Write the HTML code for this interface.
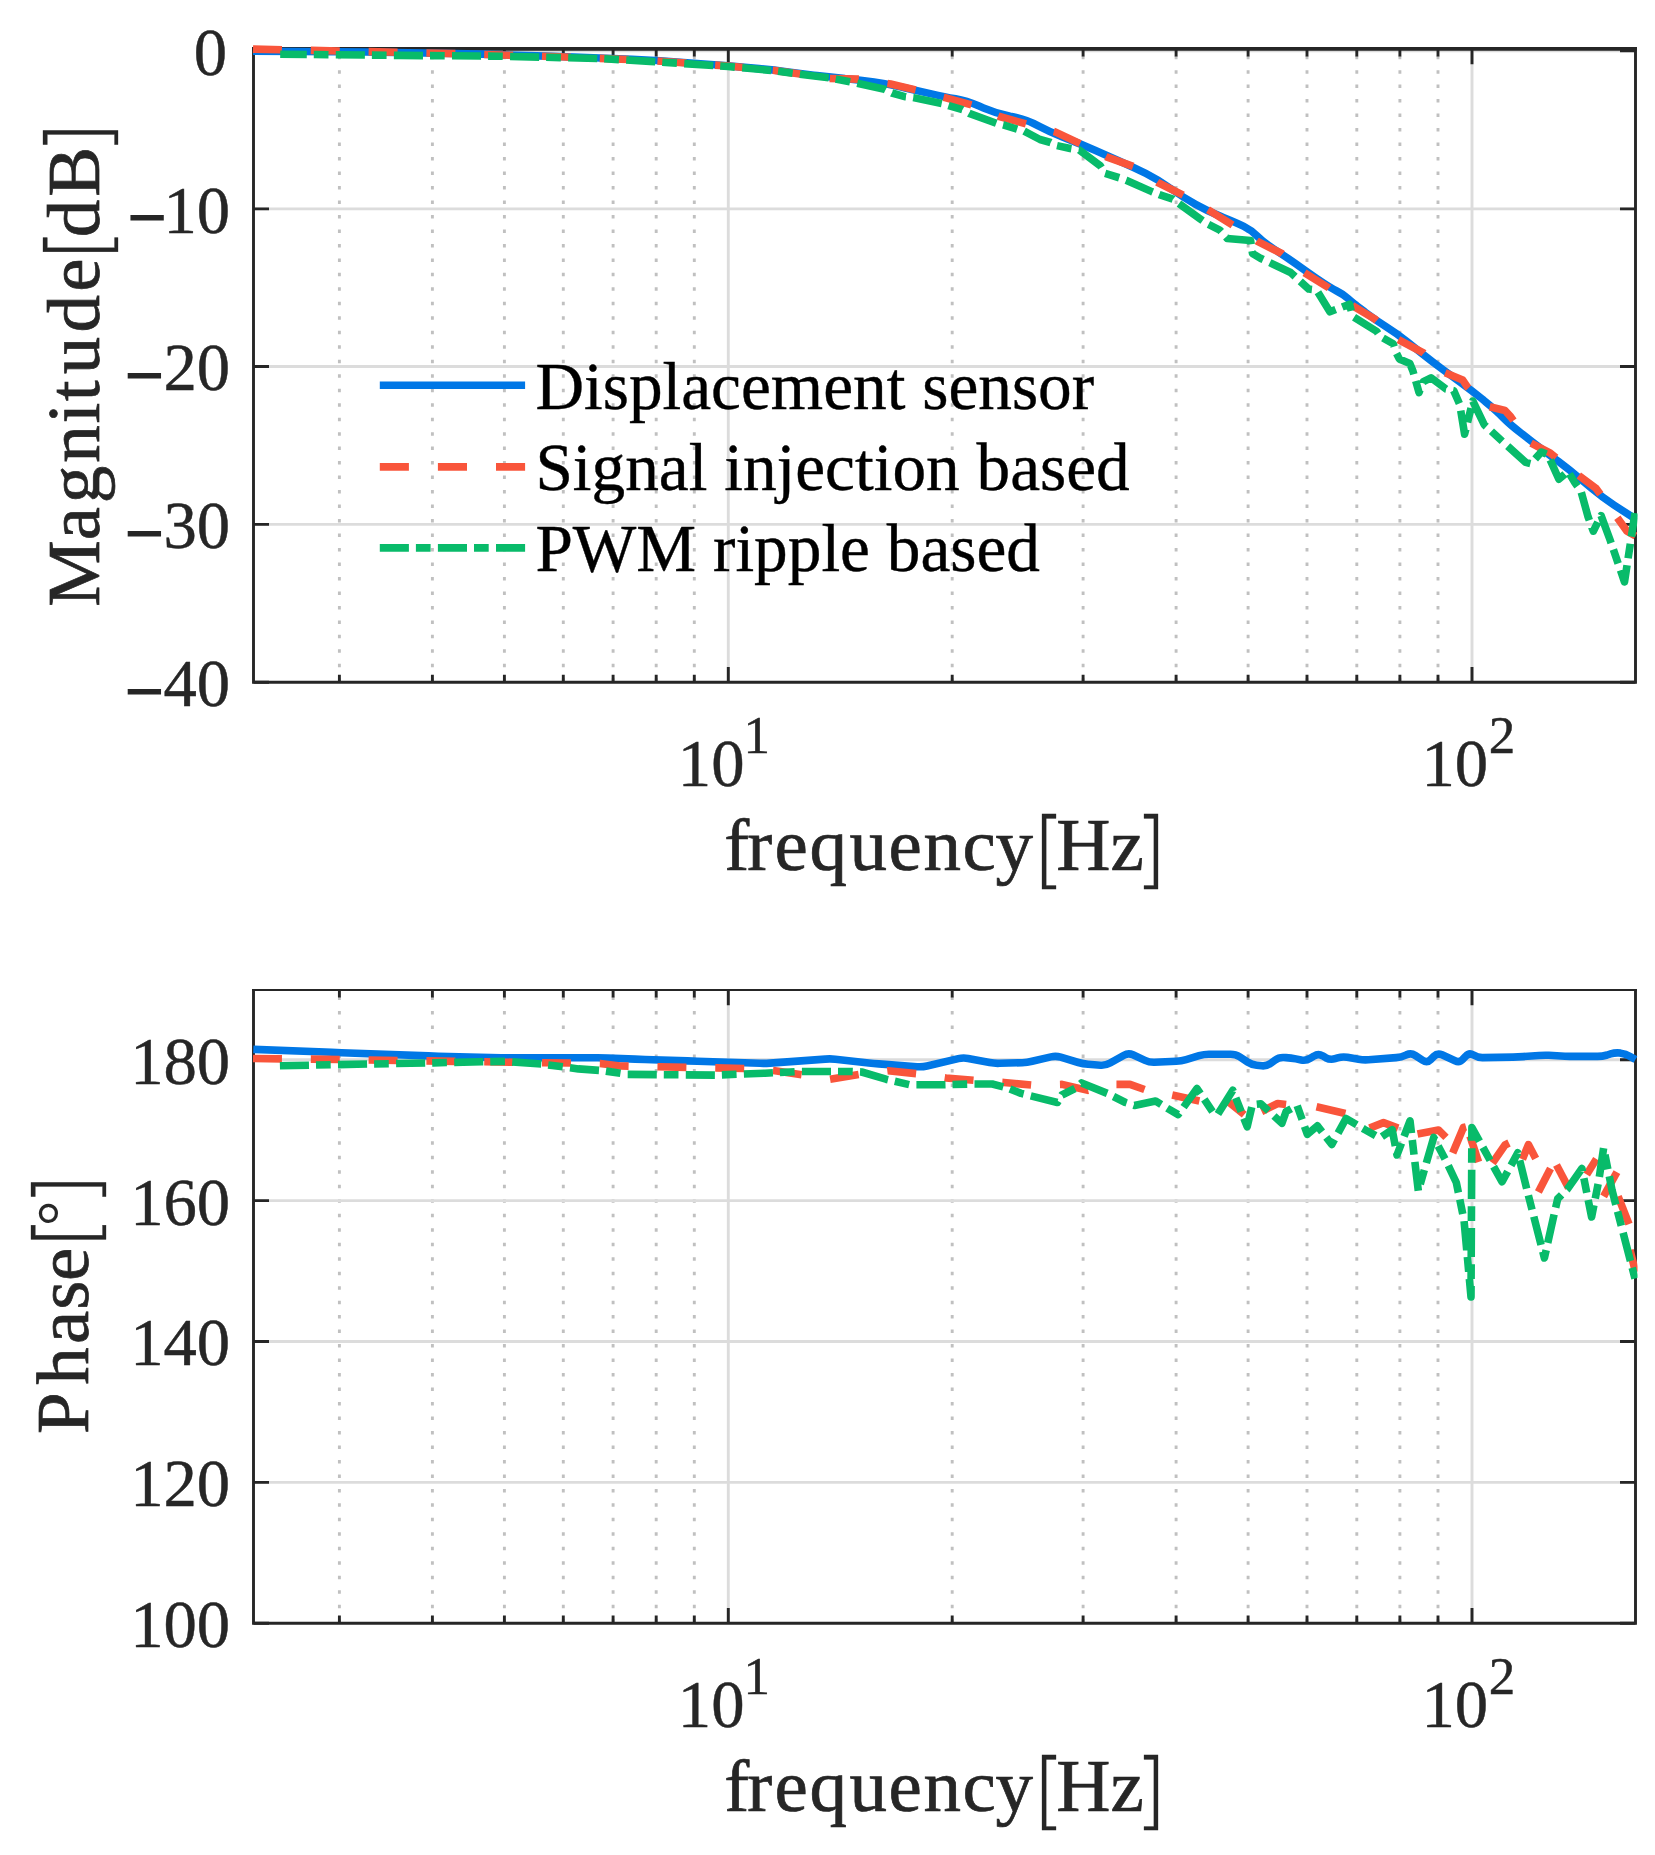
<!DOCTYPE html>
<html><head><meta charset="utf-8"><title>Bode plot</title>
<style>html,body{margin:0;padding:0;background:#fff}svg{display:block}text{font-family:"Liberation Serif",serif;fill:#262626}</style></head><body>
<svg width="1655" height="1855" viewBox="0 0 1655 1855">
<rect width="1655" height="1855" fill="#fff"/>
<defs>
<clipPath id="c1"><rect x="251.5" y="44.9" width="1386.0" height="641.4"/></clipPath>
<clipPath id="c2"><rect x="251.5" y="985.9" width="1386.0" height="641.3000000000001"/></clipPath>
</defs>
<line x1="339.4" y1="682.3" x2="339.4" y2="48.9" stroke="#c0c0c0" stroke-width="2.9" stroke-dasharray="3.5 10.98" stroke-dashoffset="-0.5"/>
<line x1="432.4" y1="682.3" x2="432.4" y2="48.9" stroke="#c0c0c0" stroke-width="2.9" stroke-dasharray="3.5 10.98" stroke-dashoffset="-0.5"/>
<line x1="504.4" y1="682.3" x2="504.4" y2="48.9" stroke="#c0c0c0" stroke-width="2.9" stroke-dasharray="3.5 10.98" stroke-dashoffset="-0.5"/>
<line x1="563.3" y1="682.3" x2="563.3" y2="48.9" stroke="#c0c0c0" stroke-width="2.9" stroke-dasharray="3.5 10.98" stroke-dashoffset="-0.5"/>
<line x1="613.1" y1="682.3" x2="613.1" y2="48.9" stroke="#c0c0c0" stroke-width="2.9" stroke-dasharray="3.5 10.98" stroke-dashoffset="-0.5"/>
<line x1="656.2" y1="682.3" x2="656.2" y2="48.9" stroke="#c0c0c0" stroke-width="2.9" stroke-dasharray="3.5 10.98" stroke-dashoffset="-0.5"/>
<line x1="694.3" y1="682.3" x2="694.3" y2="48.9" stroke="#c0c0c0" stroke-width="2.9" stroke-dasharray="3.5 10.98" stroke-dashoffset="-0.5"/>
<line x1="952.2" y1="682.3" x2="952.2" y2="48.9" stroke="#c0c0c0" stroke-width="2.9" stroke-dasharray="3.5 10.98" stroke-dashoffset="-0.5"/>
<line x1="1083.1" y1="682.3" x2="1083.1" y2="48.9" stroke="#c0c0c0" stroke-width="2.9" stroke-dasharray="3.5 10.98" stroke-dashoffset="-0.5"/>
<line x1="1176.1" y1="682.3" x2="1176.1" y2="48.9" stroke="#c0c0c0" stroke-width="2.9" stroke-dasharray="3.5 10.98" stroke-dashoffset="-0.5"/>
<line x1="1248.1" y1="682.3" x2="1248.1" y2="48.9" stroke="#c0c0c0" stroke-width="2.9" stroke-dasharray="3.5 10.98" stroke-dashoffset="-0.5"/>
<line x1="1307.0" y1="682.3" x2="1307.0" y2="48.9" stroke="#c0c0c0" stroke-width="2.9" stroke-dasharray="3.5 10.98" stroke-dashoffset="-0.5"/>
<line x1="1356.8" y1="682.3" x2="1356.8" y2="48.9" stroke="#c0c0c0" stroke-width="2.9" stroke-dasharray="3.5 10.98" stroke-dashoffset="-0.5"/>
<line x1="1399.9" y1="682.3" x2="1399.9" y2="48.9" stroke="#c0c0c0" stroke-width="2.9" stroke-dasharray="3.5 10.98" stroke-dashoffset="-0.5"/>
<line x1="1438.0" y1="682.3" x2="1438.0" y2="48.9" stroke="#c0c0c0" stroke-width="2.9" stroke-dasharray="3.5 10.98" stroke-dashoffset="-0.5"/>
<line x1="728.3" y1="682.3" x2="728.3" y2="48.9" stroke="#dcdcdc" stroke-width="2.9"/>
<line x1="1472.0" y1="682.3" x2="1472.0" y2="48.9" stroke="#dcdcdc" stroke-width="2.9"/>
<line x1="253.5" y1="50.9" x2="1635.5" y2="50.9" stroke="#dcdcdc" stroke-width="2.9"/>
<line x1="253.5" y1="208.9" x2="1635.5" y2="208.9" stroke="#dcdcdc" stroke-width="2.9"/>
<line x1="253.5" y1="366.5" x2="1635.5" y2="366.5" stroke="#dcdcdc" stroke-width="2.9"/>
<line x1="253.5" y1="524.4" x2="1635.5" y2="524.4" stroke="#dcdcdc" stroke-width="2.9"/>
<path d="M339.4 682.3v-7.6M339.4 48.9v7.6" stroke="#262626" stroke-width="2.9"/>
<path d="M432.4 682.3v-7.6M432.4 48.9v7.6" stroke="#262626" stroke-width="2.9"/>
<path d="M504.4 682.3v-7.6M504.4 48.9v7.6" stroke="#262626" stroke-width="2.9"/>
<path d="M563.3 682.3v-7.6M563.3 48.9v7.6" stroke="#262626" stroke-width="2.9"/>
<path d="M613.1 682.3v-7.6M613.1 48.9v7.6" stroke="#262626" stroke-width="2.9"/>
<path d="M656.2 682.3v-7.6M656.2 48.9v7.6" stroke="#262626" stroke-width="2.9"/>
<path d="M694.3 682.3v-7.6M694.3 48.9v7.6" stroke="#262626" stroke-width="2.9"/>
<path d="M952.2 682.3v-7.6M952.2 48.9v7.6" stroke="#262626" stroke-width="2.9"/>
<path d="M1083.1 682.3v-7.6M1083.1 48.9v7.6" stroke="#262626" stroke-width="2.9"/>
<path d="M1176.1 682.3v-7.6M1176.1 48.9v7.6" stroke="#262626" stroke-width="2.9"/>
<path d="M1248.1 682.3v-7.6M1248.1 48.9v7.6" stroke="#262626" stroke-width="2.9"/>
<path d="M1307.0 682.3v-7.6M1307.0 48.9v7.6" stroke="#262626" stroke-width="2.9"/>
<path d="M1356.8 682.3v-7.6M1356.8 48.9v7.6" stroke="#262626" stroke-width="2.9"/>
<path d="M1399.9 682.3v-7.6M1399.9 48.9v7.6" stroke="#262626" stroke-width="2.9"/>
<path d="M1438.0 682.3v-7.6M1438.0 48.9v7.6" stroke="#262626" stroke-width="2.9"/>
<path d="M728.3 682.3v-15.3M728.3 48.9v15.3" stroke="#262626" stroke-width="2.9"/>
<path d="M1472.0 682.3v-15.3M1472.0 48.9v15.3" stroke="#262626" stroke-width="2.9"/>
<path d="M253.5 50.9h15.5M1635.5 50.9h-15.5" stroke="#262626" stroke-width="2.9"/>
<path d="M253.5 208.9h15.5M1635.5 208.9h-15.5" stroke="#262626" stroke-width="2.9"/>
<path d="M253.5 366.5h15.5M1635.5 366.5h-15.5" stroke="#262626" stroke-width="2.9"/>
<path d="M253.5 524.4h15.5M1635.5 524.4h-15.5" stroke="#262626" stroke-width="2.9"/>
<path d="M253.5 682.3h15.5M1635.5 682.3h-15.5" stroke="#262626" stroke-width="2.9"/>
<path d="M253.5 47.00V682.3H1635.5V47.00" fill="none" stroke="#262626" stroke-width="2.9" stroke-linejoin="miter"/>
<line x1="252.05" y1="48.90" x2="1636.95" y2="48.90" stroke="#262626" stroke-width="3.8"/>
<line x1="339.4" y1="1623.2" x2="339.4" y2="989.9" stroke="#c0c0c0" stroke-width="2.9" stroke-dasharray="3.5 10.98" stroke-dashoffset="-0.5"/>
<line x1="432.4" y1="1623.2" x2="432.4" y2="989.9" stroke="#c0c0c0" stroke-width="2.9" stroke-dasharray="3.5 10.98" stroke-dashoffset="-0.5"/>
<line x1="504.4" y1="1623.2" x2="504.4" y2="989.9" stroke="#c0c0c0" stroke-width="2.9" stroke-dasharray="3.5 10.98" stroke-dashoffset="-0.5"/>
<line x1="563.3" y1="1623.2" x2="563.3" y2="989.9" stroke="#c0c0c0" stroke-width="2.9" stroke-dasharray="3.5 10.98" stroke-dashoffset="-0.5"/>
<line x1="613.1" y1="1623.2" x2="613.1" y2="989.9" stroke="#c0c0c0" stroke-width="2.9" stroke-dasharray="3.5 10.98" stroke-dashoffset="-0.5"/>
<line x1="656.2" y1="1623.2" x2="656.2" y2="989.9" stroke="#c0c0c0" stroke-width="2.9" stroke-dasharray="3.5 10.98" stroke-dashoffset="-0.5"/>
<line x1="694.3" y1="1623.2" x2="694.3" y2="989.9" stroke="#c0c0c0" stroke-width="2.9" stroke-dasharray="3.5 10.98" stroke-dashoffset="-0.5"/>
<line x1="952.2" y1="1623.2" x2="952.2" y2="989.9" stroke="#c0c0c0" stroke-width="2.9" stroke-dasharray="3.5 10.98" stroke-dashoffset="-0.5"/>
<line x1="1083.1" y1="1623.2" x2="1083.1" y2="989.9" stroke="#c0c0c0" stroke-width="2.9" stroke-dasharray="3.5 10.98" stroke-dashoffset="-0.5"/>
<line x1="1176.1" y1="1623.2" x2="1176.1" y2="989.9" stroke="#c0c0c0" stroke-width="2.9" stroke-dasharray="3.5 10.98" stroke-dashoffset="-0.5"/>
<line x1="1248.1" y1="1623.2" x2="1248.1" y2="989.9" stroke="#c0c0c0" stroke-width="2.9" stroke-dasharray="3.5 10.98" stroke-dashoffset="-0.5"/>
<line x1="1307.0" y1="1623.2" x2="1307.0" y2="989.9" stroke="#c0c0c0" stroke-width="2.9" stroke-dasharray="3.5 10.98" stroke-dashoffset="-0.5"/>
<line x1="1356.8" y1="1623.2" x2="1356.8" y2="989.9" stroke="#c0c0c0" stroke-width="2.9" stroke-dasharray="3.5 10.98" stroke-dashoffset="-0.5"/>
<line x1="1399.9" y1="1623.2" x2="1399.9" y2="989.9" stroke="#c0c0c0" stroke-width="2.9" stroke-dasharray="3.5 10.98" stroke-dashoffset="-0.5"/>
<line x1="1438.0" y1="1623.2" x2="1438.0" y2="989.9" stroke="#c0c0c0" stroke-width="2.9" stroke-dasharray="3.5 10.98" stroke-dashoffset="-0.5"/>
<line x1="728.3" y1="1623.2" x2="728.3" y2="989.9" stroke="#dcdcdc" stroke-width="2.9"/>
<line x1="1472.0" y1="1623.2" x2="1472.0" y2="989.9" stroke="#dcdcdc" stroke-width="2.9"/>
<line x1="253.5" y1="1059.8" x2="1635.5" y2="1059.8" stroke="#dcdcdc" stroke-width="2.9"/>
<line x1="253.5" y1="1200.6" x2="1635.5" y2="1200.6" stroke="#dcdcdc" stroke-width="2.9"/>
<line x1="253.5" y1="1341.5" x2="1635.5" y2="1341.5" stroke="#dcdcdc" stroke-width="2.9"/>
<line x1="253.5" y1="1482.4" x2="1635.5" y2="1482.4" stroke="#dcdcdc" stroke-width="2.9"/>
<path d="M339.4 1623.2v-7.6M339.4 989.9v7.6" stroke="#262626" stroke-width="2.9"/>
<path d="M432.4 1623.2v-7.6M432.4 989.9v7.6" stroke="#262626" stroke-width="2.9"/>
<path d="M504.4 1623.2v-7.6M504.4 989.9v7.6" stroke="#262626" stroke-width="2.9"/>
<path d="M563.3 1623.2v-7.6M563.3 989.9v7.6" stroke="#262626" stroke-width="2.9"/>
<path d="M613.1 1623.2v-7.6M613.1 989.9v7.6" stroke="#262626" stroke-width="2.9"/>
<path d="M656.2 1623.2v-7.6M656.2 989.9v7.6" stroke="#262626" stroke-width="2.9"/>
<path d="M694.3 1623.2v-7.6M694.3 989.9v7.6" stroke="#262626" stroke-width="2.9"/>
<path d="M952.2 1623.2v-7.6M952.2 989.9v7.6" stroke="#262626" stroke-width="2.9"/>
<path d="M1083.1 1623.2v-7.6M1083.1 989.9v7.6" stroke="#262626" stroke-width="2.9"/>
<path d="M1176.1 1623.2v-7.6M1176.1 989.9v7.6" stroke="#262626" stroke-width="2.9"/>
<path d="M1248.1 1623.2v-7.6M1248.1 989.9v7.6" stroke="#262626" stroke-width="2.9"/>
<path d="M1307.0 1623.2v-7.6M1307.0 989.9v7.6" stroke="#262626" stroke-width="2.9"/>
<path d="M1356.8 1623.2v-7.6M1356.8 989.9v7.6" stroke="#262626" stroke-width="2.9"/>
<path d="M1399.9 1623.2v-7.6M1399.9 989.9v7.6" stroke="#262626" stroke-width="2.9"/>
<path d="M1438.0 1623.2v-7.6M1438.0 989.9v7.6" stroke="#262626" stroke-width="2.9"/>
<path d="M728.3 1623.2v-15.3M728.3 989.9v15.3" stroke="#262626" stroke-width="2.9"/>
<path d="M1472.0 1623.2v-15.3M1472.0 989.9v15.3" stroke="#262626" stroke-width="2.9"/>
<path d="M253.5 1059.8h15.5M1635.5 1059.8h-15.5" stroke="#262626" stroke-width="2.9"/>
<path d="M253.5 1200.6h15.5M1635.5 1200.6h-15.5" stroke="#262626" stroke-width="2.9"/>
<path d="M253.5 1341.5h15.5M1635.5 1341.5h-15.5" stroke="#262626" stroke-width="2.9"/>
<path d="M253.5 1482.4h15.5M1635.5 1482.4h-15.5" stroke="#262626" stroke-width="2.9"/>
<path d="M253.5 1623.2h15.5M1635.5 1623.2h-15.5" stroke="#262626" stroke-width="2.9"/>
<path d="M253.5 988.90V1623.2H1635.5V988.90" fill="none" stroke="#262626" stroke-width="2.9" stroke-linejoin="miter"/>
<line x1="252.05" y1="989.90" x2="1636.95" y2="989.90" stroke="#262626" stroke-width="2.0"/>
<g clip-path="url(#c1)" fill="none" stroke-width="7.6" stroke-linejoin="round">
<path d="M253.0 51.2L337.0 51.7Q351.0 51.8 365.0 52.0L453.0 53.5Q467.0 53.7 481.0 54.1L546.0 56.1Q560.0 56.5 574.0 57.0L632.0 59.3Q646.0 59.8 660.0 60.8L714.0 64.8Q728.0 65.8 741.9 67.1L759.1 68.6Q773.0 69.9 786.5 71.8L786.5 71.8Q800.0 73.6 813.9 75.2L817.1 75.5Q831.0 77.1 844.9 78.6L846.5 78.7Q860.4 80.2 874.0 82.1L874.0 82.1Q887.6 84.0 901.3 87.1L904.1 87.7Q917.8 90.8 931.4 93.9L931.4 93.9Q945.0 97.1 955.6 98.8L955.6 98.8Q966.2 100.6 979.1 106.1L983.5 107.9Q996.4 113.4 1010.1 116.2L1012.9 116.7Q1026.6 119.5 1038.3 125.8L1038.3 125.8Q1050.0 132.0 1063.0 137.1L1069.3 139.6Q1082.3 144.7 1094.4 150.0L1094.4 150.0Q1106.5 155.3 1119.3 161.0L1120.9 161.7Q1133.7 167.4 1145.8 173.4L1145.8 173.4Q1157.8 179.5 1169.2 187.6L1172.1 189.5Q1183.5 197.6 1195.6 204.4L1195.6 204.4Q1207.7 211.2 1220.7 216.4L1223.3 217.5Q1236.3 222.7 1243.8 226.4L1243.8 226.4Q1251.4 230.2 1257.4 236.2L1257.4 236.2Q1263.4 242.3 1274.0 249.1L1274.0 249.1Q1284.6 255.9 1295.2 263.4L1295.2 263.4Q1305.7 271.0 1317.2 278.9L1318.4 279.7Q1329.9 287.6 1336.7 291.0L1336.7 291.0Q1343.5 294.4 1348.0 298.5L1348.0 298.5Q1352.6 302.7 1363.8 311.1L1365.5 312.4Q1376.7 320.8 1386.5 326.9L1386.5 326.9Q1396.3 333.0 1407.2 341.7L1421.6 353.2Q1432.5 361.9 1443.8 370.2L1460.5 382.3Q1471.8 390.6 1482.7 399.4L1485.1 401.5Q1496.0 410.3 1503.0 417.5L1503.0 417.5Q1510.1 424.7 1521.2 433.2L1532.8 442.2Q1543.9 450.7 1555.1 459.1L1558.7 461.7Q1569.9 470.1 1580.6 479.1L1591.7 488.4Q1602.4 497.4 1614.1 505.1L1635.5 519.0" stroke="#0077e6"/>
<polyline points="253.0,49.1 351.0,51.2 467.0,53.9 560.0,56.8 646.0,60.2 728.0,66.0 773.0,70.2 800.0,74.0 830.0,78.5 860.0,79.2 890.6,84.0 916.3,90.0 945.0,97.6 972.0,105.1 999.4,116.5 1026.6,124.0 1055.1,131.9 1080.8,144.0 1106.5,156.8 1133.7,166.6 1157.8,182.5 1185.0,196.1 1209.2,210.5 1233.4,225.6 1257.5,241.4 1281.7,253.5 1304.2,272.5 1328.4,287.6 1352.6,305.7 1375.2,319.3 1397.8,339.3 1423.4,352.9 1444.6,372.5 1462.7,380.0 1467.3,386.9 1485.4,405.7 1505.0,410.5 1510.8,416.9 1528.3,441.6 1550.4,453.2 1575.1,472.7 1595.9,488.3 1614.0,513.0 1627.0,531.2 1635.5,536.0" stroke="#f9553b" stroke-dasharray="28.95 28.86"/>
<polyline points="280.2,54.2 400.0,55.4 500.0,56.2 600.0,58.5 650.0,61.4 728.0,66.5 773.0,70.6 800.0,74.2 830.2,78.0 849.8,81.7 884.6,89.3 892.0,93.0 905.7,96.8 913.3,97.6 942.0,103.6 949.5,105.9 962.4,109.7 969.2,113.4 996.4,123.3 1003.2,124.8 1017.5,129.3 1023.6,130.8 1040.0,139.5 1050.6,142.5 1056.6,145.5 1070.2,148.5 1079.3,150.0 1100.4,165.9 1105.0,173.4 1120.0,178.0 1126.1,180.2 1151.8,191.6 1159.3,194.6 1172.9,199.1 1179.0,203.7 1200.1,218.8 1207.7,224.0 1219.8,230.1 1227.2,238.5 1250.6,240.5 1252.5,253.5 1260.4,258.2 1290.6,272.5 1308.8,289.1 1316.5,290.0 1329.9,311.8 1349.5,304.2 1352.6,316.3 1376.7,331.4 1380.0,336.3 1393.2,343.8 1396.3,352.9 1399.3,358.9 1409.8,363.4 1412.9,371.0 1419.0,392.5 1423.4,381.6 1431.0,377.8 1446.0,389.0 1453.7,390.6 1459.7,404.2 1464.6,434.2 1472.8,401.0 1484.2,424.7 1499.8,439.0 1525.7,462.4 1530.9,463.7 1541.3,452.0 1547.8,454.6 1558.9,479.2 1568.0,471.4 1575.1,483.1 1580.9,490.9 1588.1,516.9 1593.3,531.2 1601.1,515.6 1610.2,540.3 1624.5,581.9 1635.0,513.0" stroke="#08bb6a" stroke-dasharray="29.1 7 14.7 7.3" stroke-dashoffset="2.5"/>
</g>
<g clip-path="url(#c2)" fill="none" stroke-width="7.6" stroke-linejoin="round">
<path d="M253.3 1049.4L331.7 1052.3Q336.7 1052.5 341.7 1052.7L428.4 1055.9Q433.4 1056.1 438.4 1056.2L500.9 1057.7Q505.9 1057.8 510.9 1057.8L597.5 1057.8Q602.5 1057.8 607.5 1058.0L635.0 1059.1Q640.0 1059.3 645.0 1059.5L687.5 1060.9Q692.5 1061.1 697.5 1061.3L760.0 1063.3Q765.0 1063.5 770.0 1063.1L825.3 1059.1Q830.3 1058.7 835.3 1059.2L868.8 1063.0Q873.8 1063.5 878.8 1063.9L917.1 1066.7Q922.1 1067.1 927.0 1066.0L958.3 1058.6Q963.2 1057.5 968.1 1058.4L989.7 1062.6Q994.6 1063.5 999.6 1063.3L1022.2 1062.7Q1027.2 1062.5 1032.1 1061.3L1051.0 1056.9Q1055.9 1055.7 1060.7 1057.2L1078.3 1062.5Q1083.1 1064.0 1088.1 1064.3L1100.7 1065.2Q1105.7 1065.5 1110.1 1063.0L1124.0 1055.2Q1128.4 1052.7 1132.9 1054.8L1145.0 1060.4Q1149.5 1062.5 1154.5 1062.3L1176.3 1061.2Q1181.3 1061.0 1186.1 1059.6L1199.1 1055.6Q1203.9 1054.2 1208.9 1054.2L1230.6 1054.2Q1235.6 1054.2 1239.8 1056.9L1247.5 1062.0Q1251.7 1064.7 1256.7 1065.2L1261.8 1065.8Q1266.8 1066.3 1270.8 1063.3L1274.9 1060.2Q1278.9 1057.2 1283.9 1057.5L1286.0 1057.6Q1291.0 1057.9 1295.9 1058.9L1301.2 1060.0Q1306.1 1061.0 1310.3 1058.3L1314.0 1056.1Q1318.2 1053.4 1322.6 1055.8L1325.9 1057.8Q1330.3 1060.2 1335.1 1058.7L1337.6 1057.9Q1342.4 1056.4 1347.3 1057.3L1358.6 1059.3Q1363.5 1060.2 1368.5 1059.8L1396.3 1057.6Q1401.3 1057.2 1405.8 1055.1L1406.6 1054.8Q1411.1 1052.7 1415.3 1055.5L1422.8 1060.4Q1427.0 1063.2 1430.5 1059.7L1434.0 1056.2Q1437.5 1052.7 1442.0 1054.8L1455.0 1060.8Q1459.5 1062.9 1462.9 1059.2L1465.8 1056.2Q1469.2 1052.5 1473.5 1055.1L1473.5 1055.1Q1477.7 1057.7 1482.7 1057.6L1513.0 1057.1Q1518.0 1057.0 1523.0 1056.6L1538.9 1055.5Q1543.9 1055.1 1548.9 1055.3L1564.9 1056.2Q1569.9 1056.4 1574.9 1056.4L1597.4 1056.4Q1602.4 1056.4 1607.2 1055.0L1610.6 1053.9Q1615.4 1052.5 1620.4 1053.1L1620.8 1053.2Q1625.8 1053.8 1630.1 1056.4L1635.5 1059.6" stroke="#0077e6"/>
<polyline points="253.0,1058.5 340.0,1059.5 420.0,1060.8 480.0,1061.7 540.0,1062.7 600.0,1063.4 620.0,1066.0 700.0,1067.6 760.0,1068.8 775.0,1070.8 800.0,1074.4 830.0,1079.2 859.0,1074.4 888.0,1070.8 917.0,1073.7 946.0,1078.0 975.0,1080.4 1004.0,1082.5 1032.0,1085.1 1062.0,1084.4 1088.0,1090.4 1116.0,1084.4 1130.0,1084.4 1145.0,1089.7 1160.0,1092.6" stroke="#f9553b" stroke-dasharray="28.95 28.86"/>
<polyline points="1172.2,1095.0 1199.4,1101.0" stroke="#f9553b"/>
<polyline points="1224.5,1101.0 1230.0,1103.0 1244.2,1114.6" stroke="#f9553b"/>
<polyline points="1261.6,1111.5 1277.7,1103.5 1286.1,1104.5" stroke="#f9553b"/>
<polyline points="1316.5,1106.7 1345.4,1113.5" stroke="#f9553b"/>
<polyline points="1369.6,1128.1 1383.5,1122.6 1398.1,1128.1" stroke="#f9553b"/>
<polyline points="1417.5,1134.0 1438.5,1130.0 1446.0,1137.4" stroke="#f9553b"/>
<polyline points="1452.7,1153.0 1463.4,1127.5 1466.0,1126.8" stroke="#f9553b"/>
<polyline points="1470.0,1136.0 1478.5,1162.0" stroke="#f9553b"/>
<polyline points="1492.5,1163.0 1505.0,1145.0 1509.0,1143.0" stroke="#f9553b"/>
<polyline points="1522.4,1159.2 1528.4,1144.6 1535.7,1158.5" stroke="#f9553b"/>
<polyline points="1538.4,1192.0 1550.5,1168.5" stroke="#f9553b"/>
<polyline points="1556.5,1165.0 1568.6,1188.0" stroke="#f9553b"/>
<polyline points="1586.7,1174.6 1596.4,1158.9" stroke="#f9553b"/>
<polyline points="1603.6,1196.3 1616.9,1172.2" stroke="#f9553b"/>
<polyline points="1618.1,1196.3 1629.0,1224.1" stroke="#f9553b"/>
<polyline points="1630.0,1250.0 1635.5,1272.0" stroke="#f9553b"/>
<polyline points="279.9,1065.8 336.7,1064.6 433.4,1062.9 481.7,1061.7 505.9,1061.4 542.1,1064.1 578.4,1068.9 602.5,1070.6 627.3,1074.4 716.7,1075.1 765.0,1073.2 801.3,1071.5 852.0,1071.5 861.7,1072.0 885.9,1079.2 910.0,1084.8 941.4,1084.8 970.5,1084.0 992.2,1084.0 1006.7,1087.7 1021.1,1093.4 1057.4,1102.5 1061.9,1095.0 1075.5,1088.2 1081.6,1082.9 1107.3,1093.4 1125.4,1102.5 1134.4,1105.5 1155.6,1101.0 1167.7,1108.5 1178.2,1114.6 1197.0,1088.5 1214.5,1114.6 1217.5,1114.6 1232.8,1090.3 1247.2,1126.7 1252.3,1104.7 1260.8,1103.8 1281.9,1123.3 1286.1,1111.5 1297.1,1105.5 1307.3,1134.3 1317.4,1125.8 1331.8,1144.5 1346.0,1118.5 1365.0,1129.7 1380.0,1138.0 1392.2,1129.7 1397.0,1155.0 1410.0,1120.8 1418.3,1190.8 1433.7,1137.5 1446.8,1162.4 1456.3,1182.5 1464.0,1220.0 1471.0,1297.0 1471.9,1127.5 1491.3,1162.5 1502.1,1181.8 1517.8,1152.8 1527.0,1190.0 1544.4,1258.0 1554.1,1214.5 1557.7,1198.8 1567.4,1189.1 1581.9,1168.5 1591.6,1216.9 1598.8,1180.6 1603.6,1148.0 1612.0,1190.0 1635.0,1278.5" stroke="#08bb6a" stroke-dasharray="29.1 7 14.7 7.3" stroke-dashoffset="0"/>
</g>
<g fill="none" stroke-width="7.6">
<line x1="379.8" y1="385.3" x2="525.1" y2="385.3" stroke="#0077e6"/>
<line x1="379.8" y1="466.9" x2="525.1" y2="466.9" stroke="#f9553b" stroke-dasharray="29.1 29"/>
<line x1="379.8" y1="547.9" x2="525.1" y2="547.9" stroke="#08bb6a" stroke-dasharray="29.1 7 14.7 7.3"/>
</g>
<g font-size="67.3">
<text x="535.4" y="408.9" style="fill:#000;stroke:#000;stroke-width:0.4">Displacement sensor</text>
<text x="535.4" y="490.2" style="fill:#000;stroke:#000;stroke-width:0.4">Signal injection based</text>
<text x="535.4" y="571.4" style="fill:#000;stroke:#000;stroke-width:0.4">PWM ripple based</text>
</g>
<g font-size="66.7" text-anchor="end" stroke="#262626" stroke-width="0.45">
<text x="227.2" y="74.8">0</text>
<text y="232.8"><tspan x="166.2" dy="7.6" stroke-width="2.3">−</tspan><tspan x="230.2" dy="-7.6">10</tspan></text>
<text y="390.4"><tspan x="163.4" dy="7.6" stroke-width="2.3">−</tspan><tspan x="230.2" dy="-7.6">20</tspan></text>
<text y="548.3"><tspan x="163.4" dy="7.6" stroke-width="2.3">−</tspan><tspan x="230.2" dy="-7.6">30</tspan></text>
<text y="706.2"><tspan x="163.4" dy="7.6" stroke-width="2.3">−</tspan><tspan x="230.2" dy="-7.6">40</tspan></text>
<text x="230.2" y="1083.7">180</text>
<text x="230.2" y="1224.5">160</text>
<text x="230.2" y="1365.4">140</text>
<text x="230.2" y="1506.3">120</text>
<text x="230.2" y="1647.1">100</text>
</g>
<g font-size="66.7" stroke="#262626" stroke-width="0.45">
<text x="677.8" y="785.9">10<tspan font-size="53" dy="-32.5" dx="-1">1</tspan></text>
<text x="1421.5" y="785.9">10<tspan font-size="53" dy="-32.5" dx="0.5">2</tspan></text>
<text x="677.8" y="1726.8">10<tspan font-size="53" dy="-32.5" dx="-1">1</tspan></text>
<text x="1421.5" y="1726.8">10<tspan font-size="53" dy="-32.5" dx="0.5">2</tspan></text>
</g>
<text x="724.3 747.3 774.6 809.5 849.6 888.6 923.4 962.6 995.5 1032.4 1056.3 1110.5 1134.6" y="870.2" font-size="75" stroke="#262626" stroke-width="0.7">frequency<tspan dy="7.9" style="font-family:'DejaVu Sans',sans-serif;font-weight:200" font-size="84" stroke-width="0.3">[</tspan><tspan dy="-7.9">Hz</tspan><tspan dy="7.9" style="font-family:'DejaVu Sans',sans-serif;font-weight:200" font-size="84" stroke-width="0.3">]</tspan></text>
<text x="724.3 747.3 774.6 809.5 849.6 888.6 923.4 962.6 995.5 1032.4 1056.3 1110.5 1134.6" y="1811.1" font-size="75" stroke="#262626" stroke-width="0.7">frequency<tspan dy="7.9" style="font-family:'DejaVu Sans',sans-serif;font-weight:200" font-size="84" stroke-width="0.3">[</tspan><tspan dy="-7.9">Hz</tspan><tspan dy="7.9" style="font-family:'DejaVu Sans',sans-serif;font-weight:200" font-size="84" stroke-width="0.3">]</tspan></text>
<text transform="translate(98.7 603.9) rotate(-90)" x="-2.8 63.6 100.6 141.2 180.3 202.6 229.6 271.5 312.1 342.7 366.6 407.1 449.9" y="0" font-size="75" stroke="#262626" stroke-width="0.7">Magnitude<tspan dy="7.9" style="font-family:'DejaVu Sans',sans-serif;font-weight:200" font-size="84" stroke-width="0.3">[</tspan><tspan dy="-7.9">dB</tspan><tspan dy="7.9" style="font-family:'DejaVu Sans',sans-serif;font-weight:200" font-size="84" stroke-width="0.3">]</tspan></text>
<text transform="translate(87.5 1435.6) rotate(-90)" x="1.5 50.8 91.6 125.9 154.5 186.9 209.5 229.5" y="0" font-size="75" stroke="#262626" stroke-width="0.7">Phase<tspan dy="7.9" style="font-family:'DejaVu Sans',sans-serif;font-weight:200" font-size="84" stroke-width="0.3">[</tspan><tspan dy="-14.9" font-size="63.5" stroke-width="0.1">°</tspan><tspan dy="14.9" style="font-family:'DejaVu Sans',sans-serif;font-weight:200" font-size="84" stroke-width="0.3">]</tspan></text>
</svg></body></html>
